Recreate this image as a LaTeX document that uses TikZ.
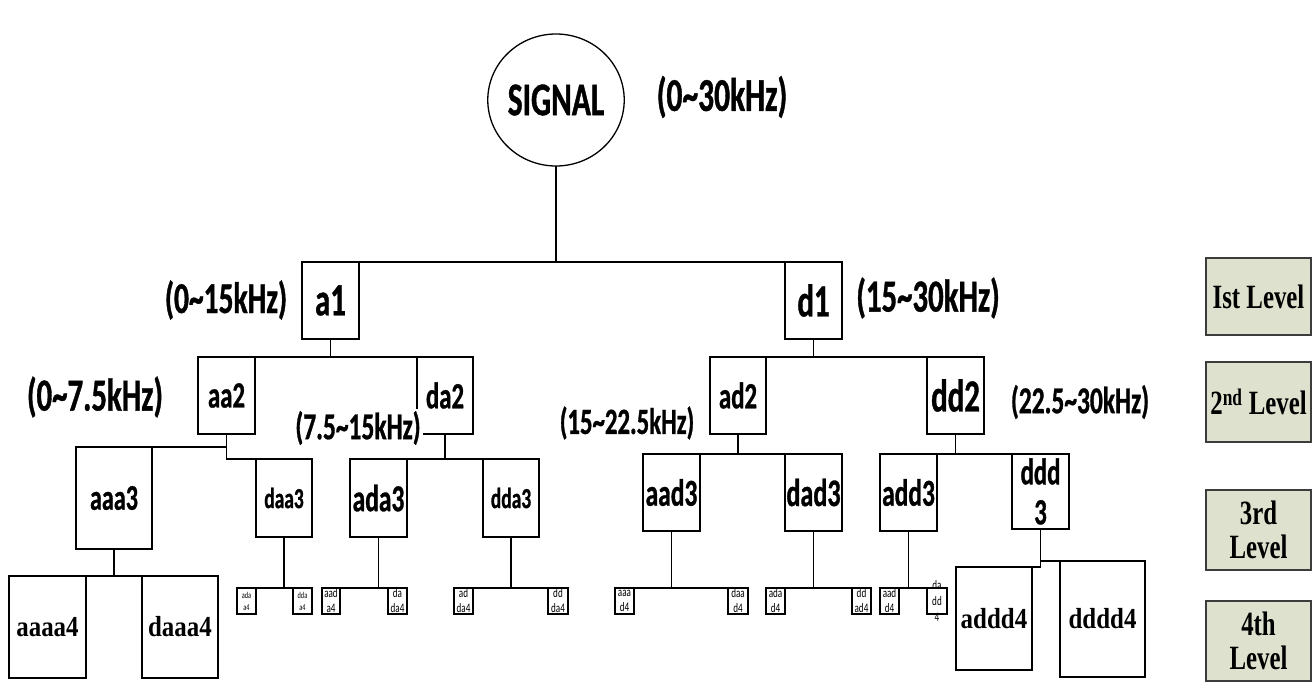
\documentclass[tikz,border=0pt]{standalone}
\usepackage{fontspec}
\usetikzlibrary{shapes.geometric}
\newfontfamily\carl[FakeStretch=0.67,FakeBold=0.8]{Carlito}
\newfontfamily\carlsm[FakeStretch=0.7]{Carlito}
\newfontfamily\tnrA[FakeStretch=0.86]{Liberation Serif}
\newfontfamily\tnrB[FakeStretch=0.73]{Liberation Serif}
\newcommand\fsz[2]{\fontsize{#1}{#2}\selectfont}
\definecolor{legfill}{RGB}{222,225,205}
\definecolor{legline}{RGB}{60,60,60}
\begin{document}
\begin{tikzpicture}[x=1pt,y=-1pt,
  ln/.style={line width=1.6pt},
  bx/.style={draw,line width=1.6pt,rectangle,inner sep=0pt,outer sep=0pt,align=center},
  cb/.style={font=\carl\bfseries\fsz{#1}{#1}},
  sb/.style={bx,minimum width=19pt,minimum height=26pt,line width=1.5pt},
  tiny/.style={font=\carlsm\fsz{9}{12}},
  smalltx/.style={font=\carlsm\fsz{13}{15}},
  tb/.style={font=\tnrA\bfseries\fsz{29}{29}},
  leg/.style={draw=legline,fill=legfill,line width=1.2pt,rectangle,inner sep=0pt,outer sep=0pt,
    minimum width=105pt,align=center,font=\tnrB\bfseries\fsz{34}{34}},
  lab/.style={inner sep=0pt}]
\useasboundingbox (0,0) rectangle (1314,682);

% root
\node[draw,ellipse,line width=1.3pt,minimum width=118pt,minimum height=132pt,inner sep=0pt,outer sep=0pt,cb=47] (sig) at (556,100) {SIGNAL};
\node[lab,cb=47] (r0) at (722,97) {(0\textasciitilde30kHz)};

% level 1
\node[bx,cb=46,minimum width=57pt,minimum height=77pt] (a1) at (330.5,300.5) {a1};
\node[bx,cb=46,minimum width=57pt,minimum height=77pt] (d1) at (813.5,300.5) {d1};
\node[lab,cb=44] (r1) at (226,300) {(0\textasciitilde15kHz)};
\node[lab,cb=46] (r2) at (928,298) {(15\textasciitilde30kHz)};

% level 2
\node[bx,cb=37,minimum width=57pt,minimum height=77pt] (aa2) at (226.5,395.5) {aa2};
\node[bx,cb=37,minimum width=56pt,minimum height=77pt] (da2) at (445,395.5) {da2};
\node[bx,cb=37,minimum width=56pt,minimum height=77pt] (ad2) at (738,395.5) {ad2};
\node[bx,cb=46,minimum width=57pt,minimum height=77pt] (dd2) at (955.5,395.5) {dd2};

% level 3
\node[bx,cb=36,minimum width=76pt,minimum height=102pt] (aaa3) at (114,498) {aaa3};
\node[bx,cb=29,minimum width=56pt,minimum height=78pt] (daa3) at (284,498) {daa3};
\node[bx,cb=38,minimum width=57pt,minimum height=78pt] (ada3) at (378.5,498) {ada3};
\node[bx,cb=29,minimum width=56pt,minimum height=78pt] (dda3) at (511,498) {dda3};
\node[bx,cb=38,minimum width=57pt,minimum height=77pt] (aad3) at (671.5,492.5) {aad3};
\node[bx,cb=39,minimum width=57pt,minimum height=77pt] (dad3) at (813.5,492.5) {dad3};
\node[bx,cb=38,minimum width=57pt,minimum height=77pt] (add3) at (908.5,492.5) {add3};
\node[bx,font=\carl\bfseries\fsz{37}{40},minimum width=57pt,minimum height=75pt] (ddd3) at (1040.5,491.5) {ddd\\3};

% level 4 large
\node[bx,tb,minimum width=77pt,minimum height=102pt] (aaaa4) at (47.5,627) {aaaa4};
\node[bx,tb,minimum width=76pt,minimum height=102pt] (daaa4) at (180,627) {daaa4};
\node[bx,tb,minimum width=76pt,minimum height=103pt] (addd4) at (994,618.5) {addd4};
\node[bx,tb,minimum width=85pt,minimum height=116pt] (dddd4) at (1102.5,619) {dddd4};

% level 4 small
\node[sb,tiny] (s1) at (246.5,601) {ada\\a4};
\node[sb,tiny] (s2) at (302.5,601) {dda\\a4};
\node[sb,smalltx,minimum width=18pt] (s3) at (331,601) {aad\\a4};
\node[sb,smalltx] (s4) at (397.5,601) {da\\da4};
\node[sb,smalltx] (s5) at (463.5,601) {ad\\da4};
\node[sb,smalltx,minimum width=20pt] (s6) at (558,601) {dd\\da4};
\node[sb,smalltx] (s7) at (624.5,601) {aaa\\d4};
\node[sb,smalltx,minimum width=20pt] (s8) at (738,601) {daa\\d4};
\node[sb,smalltx] (s9) at (775.5,601) {ada\\d4};
\node[sb,smalltx] (s10) at (861.5,601) {dd\\ad4};
\node[sb,smalltx] (s11) at (889.5,601) {aad\\d4};
\node[sb,minimum width=20pt] (s12) at (937,601) {};
\node[lab,font=\carlsm\fsz{13}{16},align=center] (s12t) at (937,601) {da\\dd\\4};

% connectors
\draw[ln] (sig.south) |- (a1.north east);
\draw[ln] (sig.south) |- (d1.north west);
\draw[ln] (a1.south) |- (aa2.north east);
\draw[ln] (a1.south) |- (da2.north west);
\draw[ln] (d1.south) |- (ad2.north east);
\draw[ln] (d1.south) |- (dd2.north west);
\draw[ln] (aa2.south) |- (aaa3.north east);
\draw[ln] (aa2.south) |- (daa3.north east);
\draw[ln] (da2.south) |- (ada3.north west);
\draw[ln] (da2.south) |- (dda3.north east);
\draw[ln] (ad2.south) |- (aad3.north west);
\draw[ln] (ad2.south) |- (dad3.north east);
\draw[ln] (dd2.south) |- (add3.north west);
\draw[ln] (dd2.south) |- (ddd3.north east);
\draw[ln] (aaa3.south) |- (aaaa4.north west);
\draw[ln] (aaa3.south) |- (daaa4.north east);
\draw[ln] (daa3.south) |- (s1.north west);
\draw[ln] (daa3.south) |- (s2.north east);
\draw[ln] (ada3.south) |- (s3.north west);
\draw[ln] (ada3.south) |- (s4.north east);
\draw[ln] (dda3.south) |- (s5.north west);
\draw[ln] (dda3.south) |- (s6.north east);
\draw[ln] (aad3.south) |- (s7.north west);
\draw[ln] (aad3.south) |- (s8.north east);
\draw[ln] (dad3.south) |- (s9.north west);
\draw[ln] (dad3.south) |- (s10.north east);
\draw[ln] (add3.south) |- (s11.north west);
\draw[ln] (add3.south) |- (s12.north east);
\draw[ln] (ddd3.south) |- (dddd4.north east);
\draw[ln] (ddd3.south) |- (addd4.north east);

% range labels of level 2
\node[lab,cb=46] (r3) at (95,397) {(0\textasciitilde7.5kHz)};
\node[lab,cb=38,fill=white,inner sep=2pt] (r4) at (358,428) {(7.5\textasciitilde15kHz)};
\node[lab,cb=37] (r5) at (627,423) {(15\textasciitilde22.5kHz)};
\node[lab,cb=38] (r6) at (1080,402) {(22.5\textasciitilde30kHz)};

% legend
\node[leg,minimum height=77pt] (L1) at (1258.5,296.5) {Ist Level};
\node[leg,minimum height=80pt] (L2) at (1258.5,402) {2\textsuperscript{nd} Level};
\node[leg,minimum height=80pt] (L3) at (1258.5,530) {3rd\\Level};
\node[leg,minimum height=80pt] (L4) at (1258.5,641) {4th\\Level};
\end{tikzpicture}
\end{document}
